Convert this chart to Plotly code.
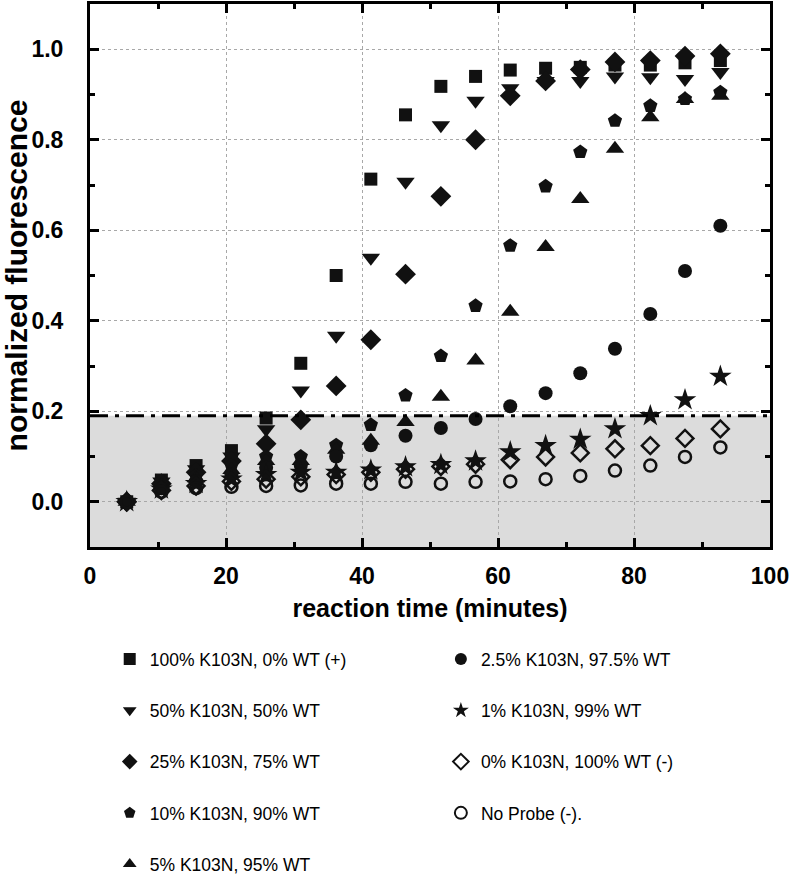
import plotly.graph_objects as go

time_min = [5.4, 10.5, 15.6, 20.8, 25.9, 31.0, 36.2, 41.3, 46.4, 51.6, 56.7, 61.8, 67.0, 72.1, 77.2, 82.4, 87.5, 92.7]

k100 = [0, 0.048, 0.080, 0.113, 0.185, 0.306, 0.500, 0.713, 0.855, 0.918, 0.940, 0.954, 0.958, 0.960, 0.965, 0.965, 0.970, 0.975]
k50 = [0, 0.045, 0.072, 0.100, 0.160, 0.246, 0.367, 0.539, 0.707, 0.832, 0.886, 0.914, 0.930, 0.930, 0.940, 0.938, 0.934, 0.950]
k25 = [0, 0.040, 0.065, 0.090, 0.128, 0.181, 0.256, 0.358, 0.503, 0.675, 0.800, 0.897, 0.930, 0.955, 0.972, 0.975, 0.985, 0.990]
k10 = [0, 0.037, 0.058, 0.080, 0.100, 0.100, 0.125, 0.170, 0.235, 0.322, 0.433, 0.566, 0.697, 0.773, 0.842, 0.875, 0.890, 0.905]
k5 = [0, 0.035, 0.052, 0.070, 0.090, 0.090, 0.115, 0.135, 0.176, 0.232, 0.312, 0.420, 0.563, 0.669, 0.780, 0.850, 0.890, 0.897]
k2_5 = [0, 0.030, 0.045, 0.060, 0.075, 0.080, 0.100, 0.125, 0.146, 0.163, 0.183, 0.211, 0.240, 0.284, 0.338, 0.415, 0.510, 0.610]
k1 = [0, 0.028, 0.040, 0.050, 0.060, 0.065, 0.065, 0.070, 0.077, 0.082, 0.090, 0.110, 0.124, 0.138, 0.161, 0.190, 0.225, 0.277]
k0 = [0, 0.025, 0.035, 0.045, 0.050, 0.055, 0.060, 0.065, 0.072, 0.078, 0.083, 0.093, 0.099, 0.108, 0.117, 0.124, 0.140, 0.161]
no_probe = [0, 0.022, 0.030, 0.033, 0.035, 0.036, 0.040, 0.040, 0.044, 0.040, 0.044, 0.045, 0.050, 0.057, 0.069, 0.080, 0.099, 0.120]

threshold = 0.19

series = [
    ("100% K103N, 0% WT (+)", k100, "square", "legend"),
    ("50% K103N, 50% WT", k50, "triangle-down", "legend"),
    ("25% K103N, 75% WT", k25, "diamond", "legend"),
    ("10% K103N, 90% WT", k10, "pentagon", "legend"),
    ("5% K103N, 95% WT", k5, "triangle-up", "legend"),
    ("2.5% K103N, 97.5% WT", k2_5, "circle", "legend2"),
    ("1% K103N, 99% WT", k1, "star", "legend2"),
    ("0% K103N, 100% WT (-)", k0, "diamond-open", "legend2"),
    ("No Probe (-).", no_probe, "circle-open", "legend2"),
]

sizes = {"square": 13, "triangle-down": 16, "diamond": 16, "pentagon": 15,
         "triangle-up": 16, "circle": 14, "star": 17, "diamond-open": 13, "circle-open": 12}

fig = go.Figure()
for i, (name, vals, sym, leg) in enumerate(series):
    fig.add_trace(go.Scatter(
        x=time_min, y=vals, mode="markers", name=name, legend=leg,
        legendgroup=str(i),
        marker=dict(symbol=sym, size=sizes[sym], color="#111111",
                    line=dict(width=2.5 if "open" in sym else 0, color="#111111")),
    ))

fig.add_shape(type="rect", xref="x", yref="y", x0=0, x1=100, y0=-0.1, y1=threshold,
              fillcolor="#dcdcdc", line=dict(width=0), layer="below")
fig.add_shape(type="line", xref="x", yref="y", x0=0, x1=100, y0=threshold, y1=threshold,
              line=dict(color="black", width=3, dash="18px,7px,4px,7px"), layer="above")

fam = "Liberation Sans Narrow, Arial Narrow, Liberation Sans, Arial"
tickfont = dict(family=fam, size=23, color="black")

axis_common = dict(
    showline=True, linecolor="black", linewidth=3, mirror="allticks",
    ticks="inside", ticklen=9, tickwidth=3, tickcolor="black",
    showgrid=True, gridcolor="#a8a8a8", gridwidth=1, griddash="dot",
    zeroline=False, tickfont=tickfont, automargin=False,
)

fig.update_xaxes(range=[0, 100], tickvals=[0, 20, 40, 60, 80, 100],
                 ticktext=["<b>0</b>", "<b>20</b>", "<b>40</b>", "<b>60</b>", "<b>80</b>", "<b>100</b>"],
                 minor=dict(tickvals=[10, 30, 50, 70, 90], ticklen=5, tickwidth=3, tickcolor="black", ticks="inside", showgrid=False),
                 ticklabelstandoff=6, tickangle=0,
                 title=dict(text="<b>reaction time (minutes)</b>", font=dict(family=fam, size=25, color="black"), standoff=12),
                 **axis_common)
fig.update_yaxes(range=[-0.1, 1.1], tickvals=[0, 0.2, 0.4, 0.6, 0.8, 1.0],
                 ticktext=["<b>0.0</b>", "<b>0.2</b>", "<b>0.4</b>", "<b>0.6</b>", "<b>0.8</b>", "<b>1.0</b>"],
                 minor=dict(tickvals=[-0.1, 0.1, 0.3, 0.5, 0.7, 0.9], ticklen=5, tickwidth=3, tickcolor="black", ticks="inside", showgrid=False),
                 ticklabelstandoff=19,
                 title=dict(text="<b>normalized fluorescence</b>", font=dict(family=fam, size=30, color="black"), standoff=2),
                 **axis_common)

legfont = dict(family="Liberation Sans, Arial", size=17.5, color="black")
fig.update_layout(
    width=792, height=879,
    margin=dict(l=90, r=22, t=4, b=332, autoexpand=False),
    plot_bgcolor="white", paper_bgcolor="white",
    legend=dict(x=0.029, y=0.2705, xanchor="left", yanchor="top", xref="paper", yref="container",
                font=legfont, tracegroupgap=25.5, itemwidth=30, itemsizing="constant", bgcolor="rgba(0,0,0,0)"),
    legend2=dict(x=0.516, y=0.2705, xanchor="left", yanchor="top", xref="paper", yref="container",
                 font=legfont, tracegroupgap=25.5, itemwidth=30, itemsizing="constant", bgcolor="rgba(0,0,0,0)"),
)

fig.write_html("out.html", config={"displayModeBar": False},
               post_script="document.body.style.margin='0';document.body.style.overflow='hidden';")
